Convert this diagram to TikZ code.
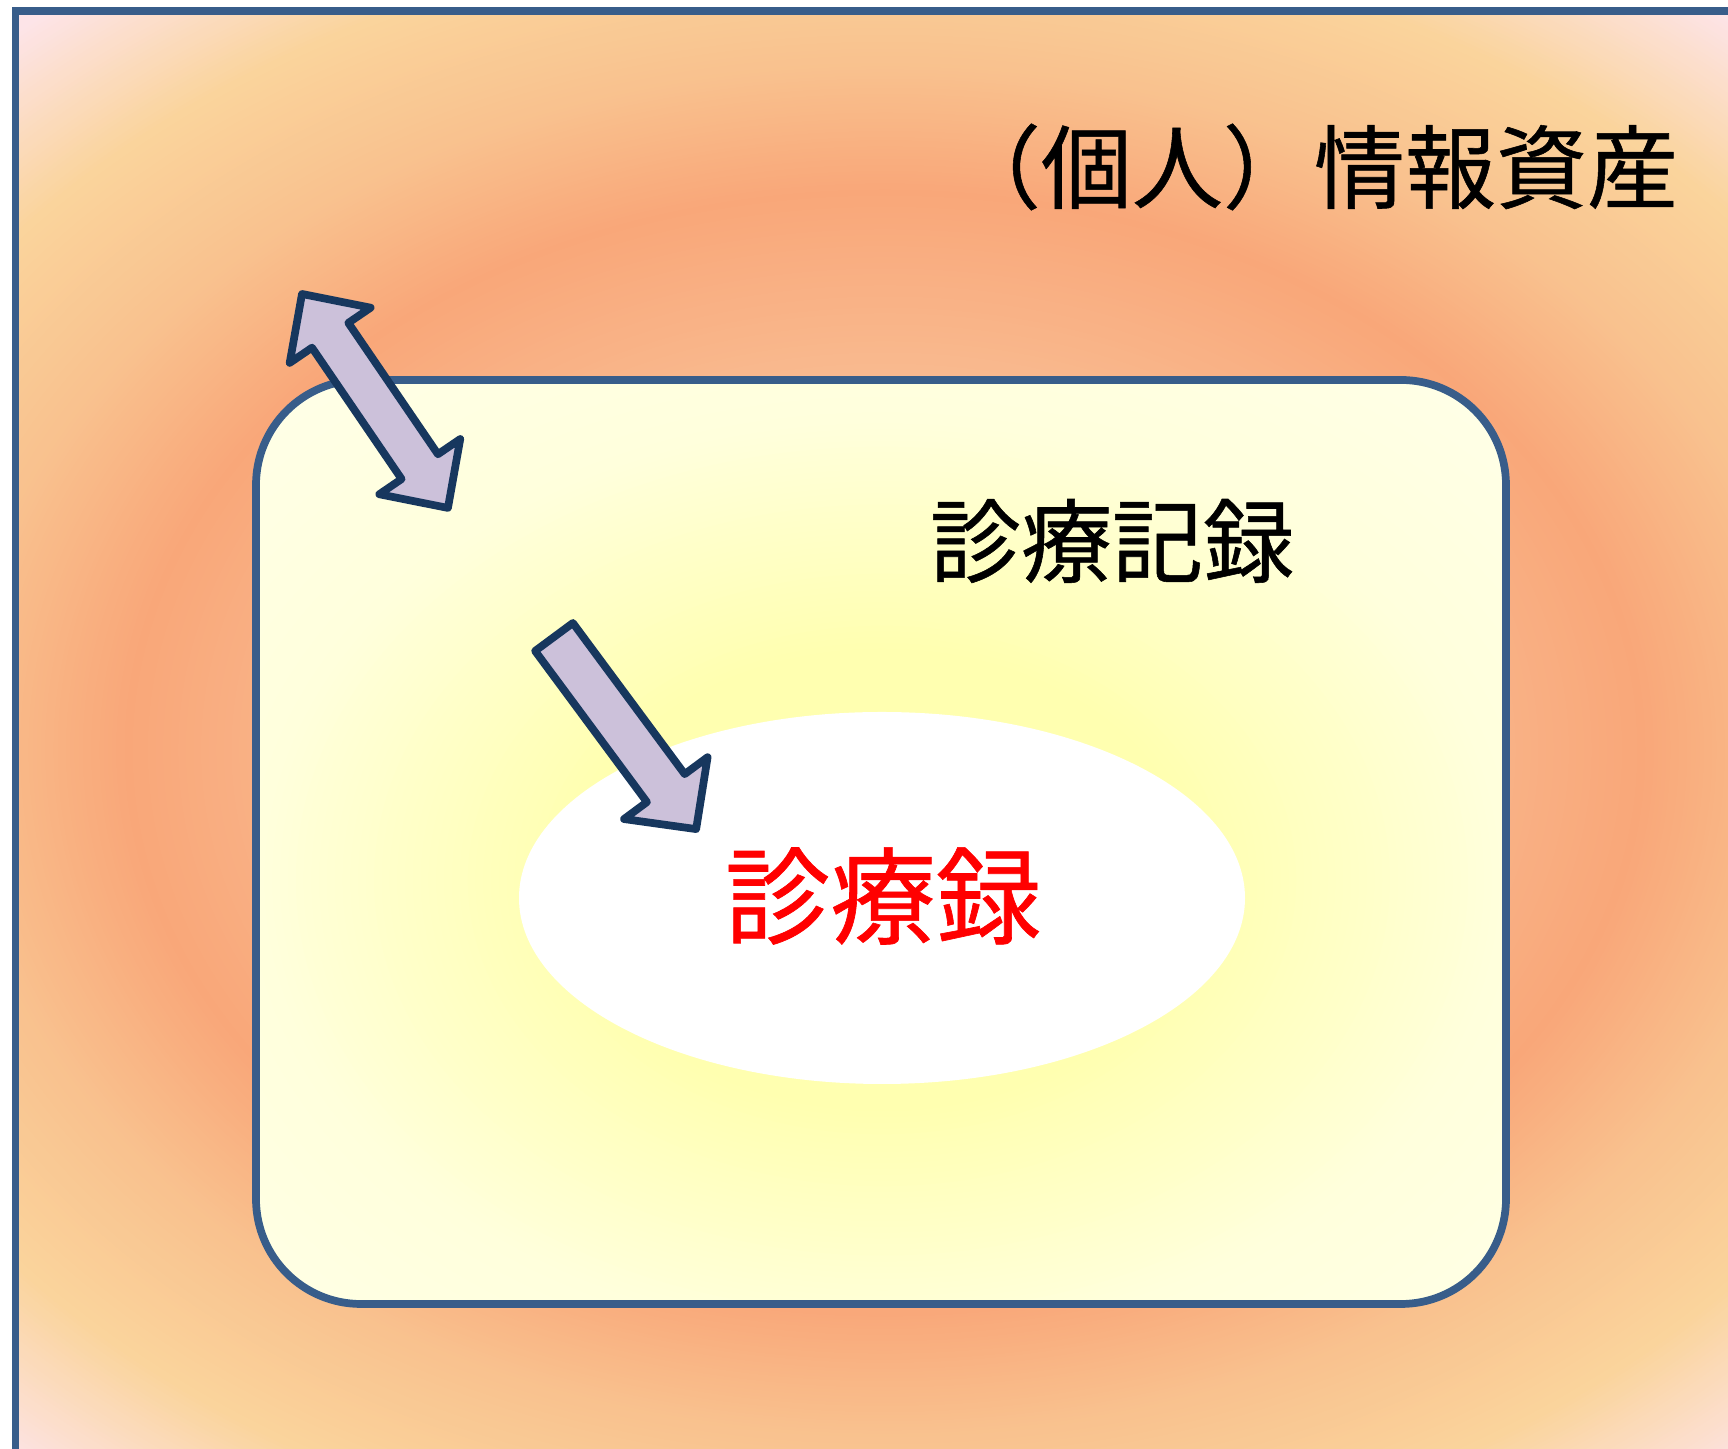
\documentclass[tikz,border=0pt]{standalone}
\usepackage{fontspec}
\newfontfamily\jpfont[FakeBold=0.6]{Noto Sans CJK JP}
\usepackage{xcolor}
\usepackage{tikz}
\definecolor{frameblue}{RGB}{56,93,138}
\definecolor{arrowline}{RGB}{23,55,94}
\definecolor{arrowfill}{RGB}{204,193,218}
\definecolor{glowpeach}{RGB}{249,190,148}
\definecolor{glowcore}{RGB}{249,167,121}
\definecolor{glowmid}{RGB}{249,193,142}
\definecolor{glowband}{RGB}{250,212,156}
\definecolor{glowrim}{RGB}{253,228,232}
\definecolor{boxcore}{RGB}{255,255,176}
\definecolor{boxrim}{RGB}{255,255,220}
\definecolor{boxcorner}{RGB}{255,255,232}

\begin{document}
\begin{tikzpicture}[
		textjp/.style={font=\jpfont\fontsize{25.9}{30}\selectfont},
		blockarrow/.style={draw=arrowline,fill=arrowfill,line width=2.2pt,line join=round}]
		\useasboundingbox (0,0) rectangle (17.28,14.49);
		\clip (0,0) rectangle (17.28,14.49);
		% glow behind everything, only inside the frame
		\begin{scope}
			\clip (0.155,-1) rectangle (18.5,14.38);
			\fill[glowrim] (0.155,-1) rectangle (18.5,14.38);
			\foreach \colA/\colB/\radA/\radB in {glowrim/glowband/1.72/1.47,glowband/glowmid/1.47/1.22,glowmid/glowcore/1.22/1.0,glowcore/glowpeach/1.0/0.6}{
				\foreach \i in {0,...,40}{
					\pgfmathsetmacro{\rr}{\radA-(\radA-\radB)*\i/40}
					\pgfmathsetmacro{\pc}{100*\i/40}
					\fill[\colB!\pc!\colA] (8.85,6.99) ellipse [x radius=7.6*\rr, y radius=5.6*\rr];
				}
			}
		\end{scope}
		\draw[frameblue,line width=2.2pt] (0.155,-1) rectangle (18.5,14.38);
		% records box: own glow, then border
		\begin{scope}
			\clip[rounded corners=1.05cm] (2.56,1.45) rectangle (15.06,10.69);
			\fill[boxcorner] (2.56,1.45) rectangle (15.06,10.69);
			\foreach \colA/\colB/\radA/\radB in {boxcorner/boxrim/1.45/1.0,boxrim/boxcore/1.0/0.5}{
				\foreach \i in {0,...,40}{
					\pgfmathsetmacro{\rr}{\radA-(\radA-\radB)*\i/40}
					\pgfmathsetmacro{\pc}{100*\i/40}
					\fill[\colB!\pc!\colA] (8.82,5.69) ellipse [x radius=6.25*\rr, y radius=4.62*\rr];
				}
			}
		\end{scope}
		\draw[frameblue,line width=2.2pt,rounded corners=1.05cm] (2.56,1.45) rectangle (15.06,10.69);
		\fill[white] (8.82,5.51) ellipse [x radius=3.63, y radius=1.86];
		% two-way arrow across the box edge
		\begin{scope}[shift={(3.02,11.55)},rotate=-55.7]
			\draw[blockarrow] (0,0) -- (0.5,0.49) -- (0.5,0.22) -- (2.09,0.22) -- (2.09,0.49) -- (2.59,0) -- (2.09,-0.49) -- (2.09,-0.22) -- (0.5,-0.22) -- (0.5,-0.49) -- cycle;
		\end{scope}
		% arrow into the core
		\begin{scope}[shift={(5.54,8.12)},rotate=-53.5]
			\draw[blockarrow] (0,0.235) -- (1.88,0.235) -- (1.88,0.52) -- (2.39,0) -- (1.88,-0.52) -- (1.88,-0.235) -- (0,-0.235) -- cycle;
		\end{scope}
		\node[textjp] (assets) at (13.14,12.82) {（個人）情報資産};
		\node[textjp] (records) at (11.12,9.08) {診療記録};
		\node[textjp,font=\jpfont\fontsize{30}{34}\selectfont,text=red] (core) at (8.83,5.53) {診療録};
	\end{tikzpicture}
\end{document}
